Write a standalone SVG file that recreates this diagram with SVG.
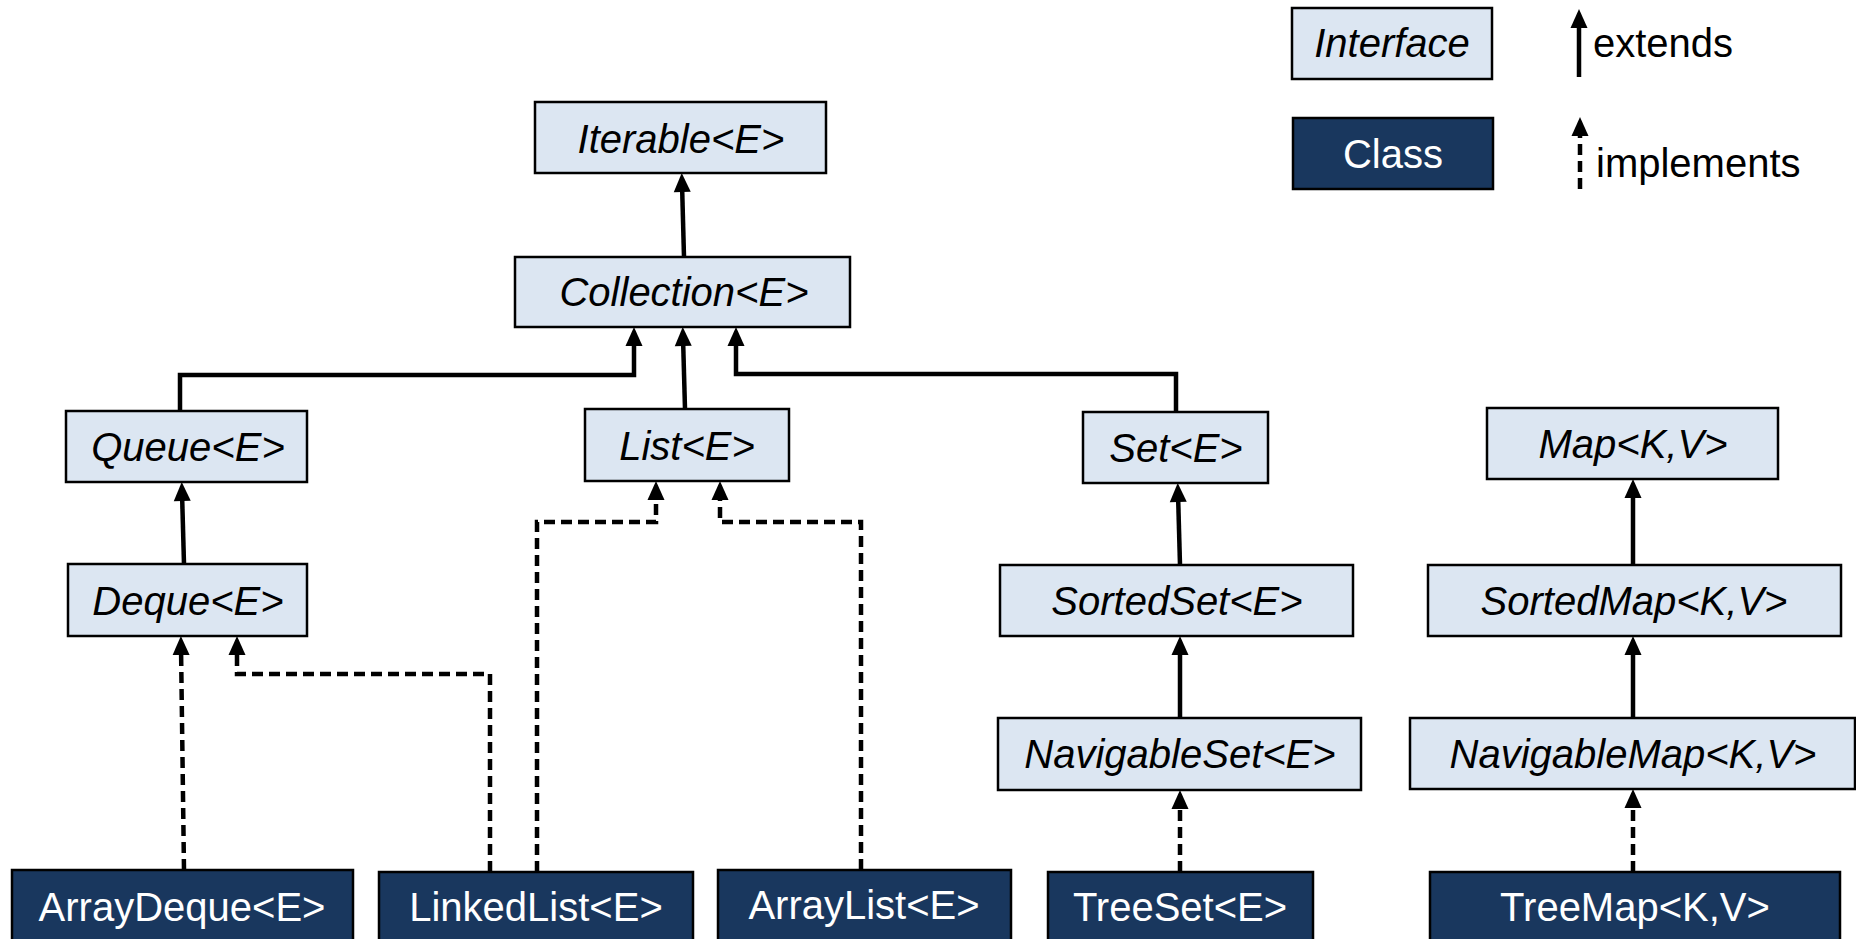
<svg xmlns="http://www.w3.org/2000/svg" width="1856" height="939" viewBox="0 0 1856 939">
  <style>
    .iface rect { fill: #dce6f2; stroke: #000; stroke-width: 2.5; }
    .cls rect { fill: #19375e; stroke: #000; stroke-width: 2.5; }
    text { font-family: "Liberation Sans", Arial, sans-serif; font-size: 40px; text-anchor: middle; }
    .iface text { font-style: italic; fill: #000; }
    .cls text { fill: #fff; }
    .legend-label { text-anchor: start; fill: #000; }
    .ext { fill: none; stroke: #000; stroke-width: 4.5; marker-end: url(#head); }
    .impl { fill: none; stroke: #000; stroke-width: 4.5; stroke-dasharray: 11 6; marker-end: url(#head); }
  </style>
  <defs>
    <!-- filled arrowhead; tip sits 10px beyond the path end -->
    <marker id="head" markerUnits="userSpaceOnUse" markerWidth="20" markerHeight="18" refX="10" refY="9" orient="auto" viewBox="0 0 20 18">
      <path d="M1,0.5 L20,9 L1,17.5 z" fill="#000"/>
    </marker>
  </defs>
  <rect width="1856" height="939" fill="#fff"/>

  <!-- legend -->
  <g id="legend">
    <g class="iface" id="legend-interface">
      <rect x="1292" y="8" width="200" height="71"/>
      <text x="1392" y="57">Interface</text>
    </g>
    <g class="cls" id="legend-class">
      <rect x="1293" y="118" width="200" height="71"/>
      <text x="1393" y="168">Class</text>
    </g>
    <path class="ext" d="M1579,77 V19"/>
    <text class="legend-label" x="1593" y="57">extends</text>
    <path class="impl" d="M1580,189 V127"/>
    <text class="legend-label" x="1596" y="177">implements</text>
  </g>

  <!-- interfaces -->
  <g id="iterable" class="iface">
    <rect x="535" y="102" width="291" height="71"/>
    <text x="681" y="153">Iterable&lt;E&gt;</text>
  </g>
  <g id="collection" class="iface">
    <rect x="515" y="257" width="335" height="70"/>
    <text x="684" y="306">Collection&lt;E&gt;</text>
  </g>
  <g id="queue" class="iface">
    <rect x="66" y="411" width="241" height="71"/>
    <text x="188" y="461">Queue&lt;E&gt;</text>
  </g>
  <g id="deque" class="iface">
    <rect x="68" y="564" width="239" height="72"/>
    <text x="188" y="615">Deque&lt;E&gt;</text>
  </g>
  <g id="list" class="iface">
    <rect x="585" y="409" width="204" height="72"/>
    <text x="687" y="460">List&lt;E&gt;</text>
  </g>
  <g id="set" class="iface">
    <rect x="1083" y="412" width="185" height="71"/>
    <text x="1176" y="462">Set&lt;E&gt;</text>
  </g>
  <g id="sortedset" class="iface">
    <rect x="1000" y="565" width="353" height="71"/>
    <text x="1177" y="615">SortedSet&lt;E&gt;</text>
  </g>
  <g id="navigableset" class="iface">
    <rect x="998" y="718" width="363" height="72"/>
    <text x="1180" y="768">NavigableSet&lt;E&gt;</text>
  </g>
  <g id="map" class="iface">
    <rect x="1487" y="408" width="291" height="71"/>
    <text x="1633" y="458">Map&lt;K,V&gt;</text>
  </g>
  <g id="sortedmap" class="iface">
    <rect x="1428" y="565" width="413" height="71"/>
    <text x="1634" y="615">SortedMap&lt;K,V&gt;</text>
  </g>
  <g id="navigablemap" class="iface">
    <rect x="1410" y="718" width="445" height="71"/>
    <text x="1633" y="768">NavigableMap&lt;K,V&gt;</text>
  </g>

  <!-- classes -->
  <g id="arraydeque" class="cls">
    <rect x="12" y="870" width="341" height="90"/>
    <text x="182" y="921">ArrayDeque&lt;E&gt;</text>
  </g>
  <g id="linkedlist" class="cls">
    <rect x="379" y="872" width="314" height="90"/>
    <text x="536" y="921">LinkedList&lt;E&gt;</text>
  </g>
  <g id="arraylist" class="cls">
    <rect x="718" y="870" width="293" height="90"/>
    <text x="864" y="919">ArrayList&lt;E&gt;</text>
  </g>
  <g id="treeset" class="cls">
    <rect x="1048" y="872" width="265" height="90"/>
    <text x="1180" y="921">TreeSet&lt;E&gt;</text>
  </g>
  <g id="treemap" class="cls">
    <rect x="1430" y="872" width="410" height="90"/>
    <text x="1635" y="921">TreeMap&lt;K,V&gt;</text>
  </g>

  <!-- connectors -->
  <g id="connectors">
    <!-- extends -->
    <path class="ext" d="M684,257 L682,183"/>
    <path class="ext" d="M180,411 V375 H634 V337"/>
    <path class="ext" d="M685,409 L683,337"/>
    <path class="ext" d="M1176,412 V374 H736 V337"/>
    <path class="ext" d="M184,564 L182,492"/>
    <path class="ext" d="M1180,565 L1178,493"/>
    <path class="ext" d="M1180,718 V646"/>
    <path class="ext" d="M1633,565 V489"/>
    <path class="ext" d="M1633,718 V646"/>
    <!-- implements -->
    <path class="impl" d="M184,870 L181,646"/>
    <path class="impl" d="M490,872 V674 H237 V646"/>
    <path class="impl" d="M537,872 V522 H656 V491"/>
    <path class="impl" d="M861,870 V522 H720 V491"/>
    <path class="impl" d="M1180,872 V800"/>
    <path class="impl" d="M1633,872 V799"/>
  </g>
</svg>
